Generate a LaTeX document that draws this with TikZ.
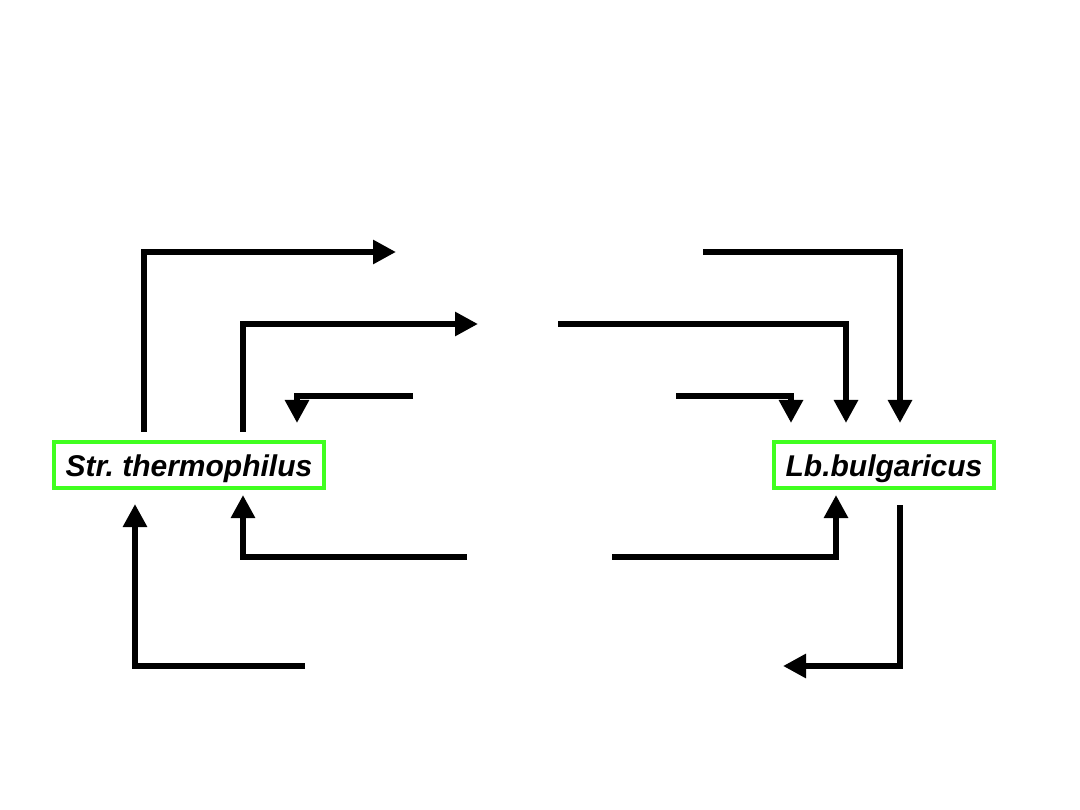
\documentclass[tikz,border=0pt]{standalone}
\usepackage{fontspec}
\setmainfont{Liberation Sans}
\usetikzlibrary{arrows.meta}
\definecolor{boxgreen}{HTML}{40FF20}
\frenchspacing
\newcommand{\lowertext}[1]{\raisebox{-4pt}[\height][\depth]{#1}}
\begin{document}
\begin{tikzpicture}[x=1pt,y=-1pt,
  species/.style={draw=boxgreen,line width=4pt,inner sep=0pt,minimum height=46pt,font=\fontsize{30}{34}\selectfont\bfseries\itshape},
  flow/.style={line width=6.5pt,-{Triangle[length=23pt,width=23pt]},line join=miter}]
\useasboundingbox (0,0) rectangle (1080,810);
\node[species,minimum width=270pt] (st) at (189,465) {\lowertext{Str. thermophilus}};
\node[species,minimum width=220pt] (lb) at (884,465) {\lowertext{Lb.bulgaricus}};
% free ends
\coordinate (a1s) at (144,432); \coordinate (a1e) at (396,252);
\coordinate (a2s) at (243,432); \coordinate (a2e) at (478,324);
\coordinate (a3s) at (413,396); \coordinate (a3e) at (297,423);
\coordinate (a4s) at (467,557); \coordinate (a4e) at (243,495);
\coordinate (a5s) at (305,666); \coordinate (a5e) at (135,504);
\coordinate (a6s) at (703,252); \coordinate (a6e) at (900,423);
\coordinate (a7s) at (558,324); \coordinate (a7e) at (846,423);
\coordinate (a8s) at (676,396); \coordinate (a8e) at (791,423);
\coordinate (a9s) at (612,557); \coordinate (a9e) at (836,495);
\coordinate (a10s) at (900,505); \coordinate (a10e) at (783,666);
\draw[flow] (a1s) |- (a1e);
\draw[flow] (a2s) |- (a2e);
\draw[flow] (a3s) -| (a3e);
\draw[flow] (a4s) -| (a4e);
\draw[flow] (a5s) -| (a5e);
\draw[flow] (a6s) -| (a6e);
\draw[flow] (a7s) -| (a7e);
\draw[flow] (a8s) -| (a8e);
\draw[flow] (a9s) -| (a9e);
\draw[flow] (a10s) |- (a10e);
\end{tikzpicture}
\end{document}
